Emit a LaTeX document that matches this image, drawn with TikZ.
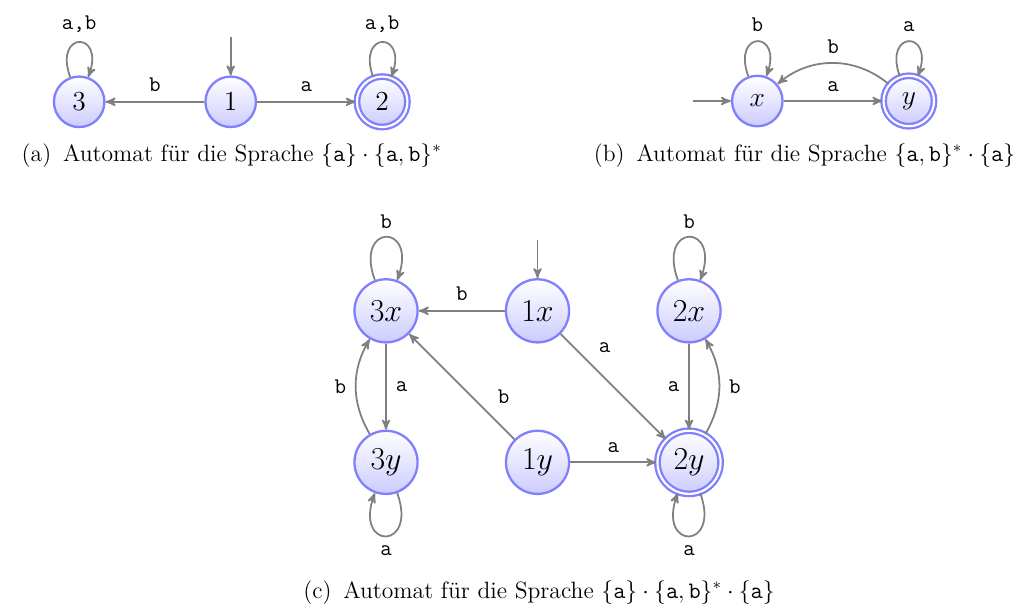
\RequirePackage{fix-cm}
\documentclass[tikz,border=0pt]{standalone}
\usepackage{amsmath}
\usetikzlibrary{arrows,positioning}

\newcommand{\capfont}{\fontsize{13.3}{16}\selectfont}
\newcommand{\smallstatefont}{\fontsize{15.5}{18}\selectfont}
\newcommand{\bigstatefont}{\fontsize{18}{21}\selectfont}
\newcommand{\lblfont}{\fontsize{12.6}{15}\selectfont\ttfamily}

\begin{document}
\begin{tikzpicture}[node distance=3cm, on grid, auto, >=stealth',
    state/.style={circle, draw=blue!50, line width=1.3pt, top color=white, bottom color=blue!20, minimum size=1cm, inner sep=0pt, font=\smallstatefont},
    big/.style={minimum size=1.25cm, font=\bigstatefont},
    accept/.style={double=white, double distance=1.2pt},
    trans/.style={->, draw=black!50, line width=1pt},
    lbl/.style={font=\lblfont, inner sep=5pt},
    every loop/.style={looseness=7},
    loop up/.style={above, out=110, in=70, loop},
    loop down/.style={below, out=-70, in=-110, loop},
    caption/.style={anchor=base, font=\capfont}]
    \useasboundingbox (0,0) rectangle (20.376,-12.158);

    % (a) Automat fuer {a}.{a,b}*
    \node (q1) [state] at (4.568,-2.016) {$1$};
    \node (q3) [state, left=of q1] {$3$};
    \node (q2) [state, accept, right=of q1] {$2$};
    \coordinate [above=0.77cm of q1.north] (i1);
    \draw [trans] (i1) -- (q1);
    \draw [trans] (q1) -- node [lbl, above] {b} (q3);
    \draw [trans] (q1) -- node [lbl] {a} (q2);
    \draw [trans] (q3) to [loop up] node [lbl] {a,b} (q3);
    \draw [trans] (q2) to [loop up] node [lbl] {a,b} (q2);
    \node (capa) [caption] at (4.588,-3.188) {(a)\enspace Automat für die Sprache $\{\mathtt{a}\}\cdot\{\mathtt{a},\mathtt{b}\}^*$};

    % (b) Automat fuer {a,b}*.{a}
    \node (qx) [state] at (14.996,-2.0) {$x$};
    \node (qy) [state, accept, right=of qx] {$y$};
    \coordinate [left=0.75cm of qx.west] (ix);
    \draw [trans] (ix) -- (qx);
    \draw [trans] (qx) -- node [lbl] {a} (qy);
    \draw [trans] (qy) to [bend right=40] node [lbl, above] {b} (qx);
    \draw [trans] (qx) to [loop up] node [lbl] {b} (qx);
    \draw [trans] (qy) to [loop up] node [lbl] {a} (qy);
    \node (capb) [caption] at (15.93,-3.188) {(b)\enspace Automat für die Sprache $\{\mathtt{a},\mathtt{b}\}^*\cdot\{\mathtt{a}\}$};

    % (c) Produktautomat
    \node (p1x) [state, big] at (10.644,-6.155) {$1x$};
    \node (p3x) [state, big, left=of p1x] {$3x$};
    \node (p2x) [state, big, right=of p1x] {$2x$};
    \node (p1y) [state, big, below=of p1x] {$1y$};
    \node (p3y) [state, big, below=of p3x] {$3y$};
    \node (p2y) [state, big, accept, below=of p2x] {$2y$};
    \coordinate [above=0.75cm of p1x.north] (i1x);
    \draw [trans] (i1x) -- (p1x);
    \draw [trans] (p1x) -- node [lbl, above] {b} (p3x);
    \draw [trans] (p1x) -- node [lbl, pos=0.27] {a} (p2y);
    \draw [trans] (p1y) -- node [lbl, pos=0.25, swap] {b} (p3x);
    \draw [trans] (p1y) -- node [lbl] {a} (p2y);
    \draw [trans] (p3x) -- node [lbl] {a} (p3y);
    \draw [trans] (p3y) to [bend left] node [lbl] {b} (p3x);
    \draw [trans] (p2x) -- node [lbl, swap] {a} (p2y);
    \draw [trans] (p2y) to [bend right] node [lbl, swap] {b} (p2x);
    \draw [trans] (p3x) to [loop up] node [lbl, inner sep=4pt] {b} (p3x);
    \draw [trans] (p2x) to [loop up] node [lbl, inner sep=4pt] {b} (p2x);
    \draw [trans] (p3y) to [loop down] node [lbl] {a} (p3y);
    \draw [trans] (p2y) to [loop down] node [lbl] {a} (p2y);
    \node (capc) [caption] at (10.673,-11.842) {(c)\enspace Automat für die Sprache $\{\mathtt{a}\}\cdot\{\mathtt{a},\mathtt{b}\}^*\cdot\{\mathtt{a}\}$};
\end{tikzpicture}
\end{document}
